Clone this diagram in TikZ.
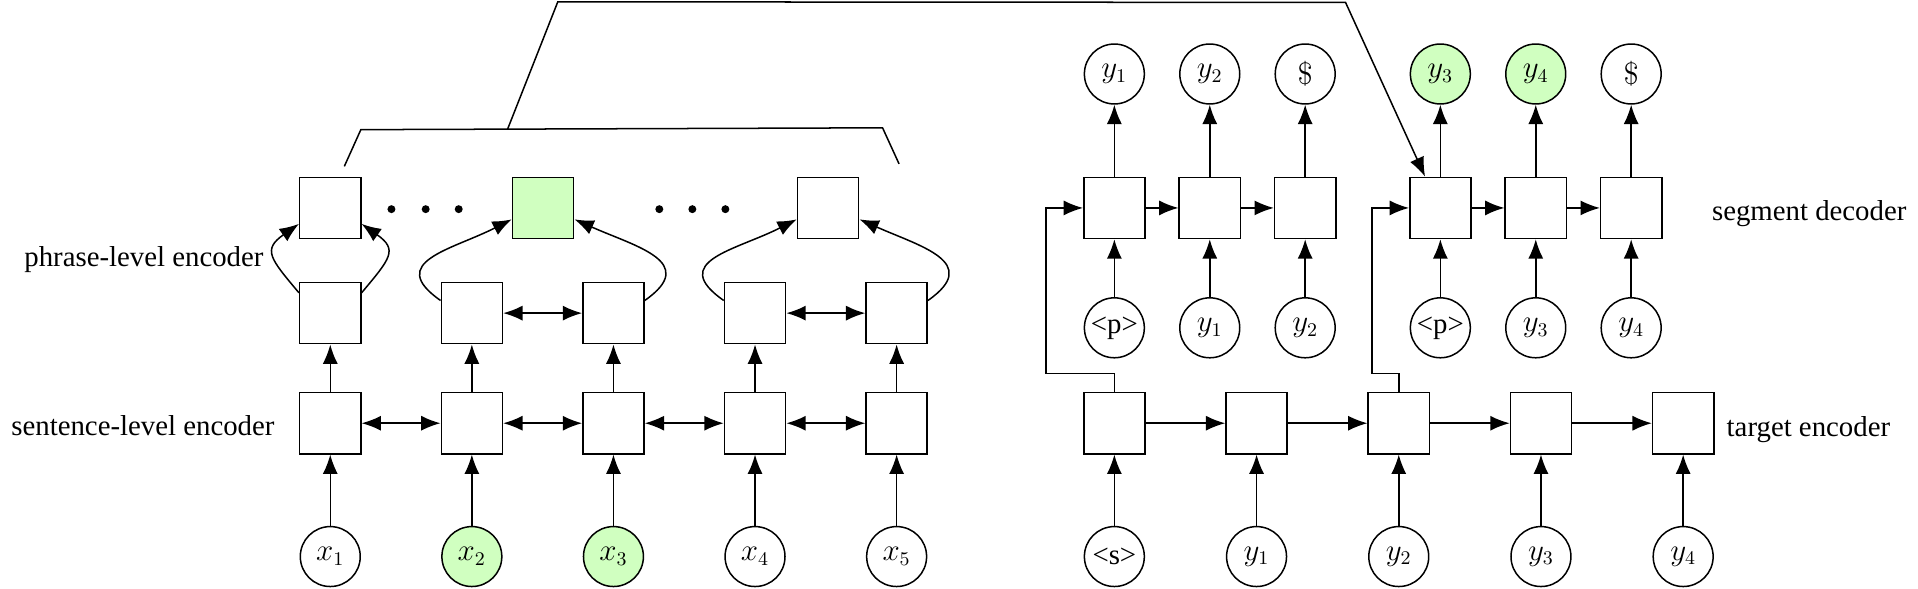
\documentclass[tikz,border=0pt]{standalone}
\usepackage[no-math]{fontspec}
\setmainfont{Liberation Serif}
\usetikzlibrary{arrows.meta}
\definecolor{hitgreen}{RGB}{208,255,192}
\begin{document}
\begin{tikzpicture}[
    font=\fontsize{13.4}{16}\selectfont,
    line width=0.7pt,
    >={Latex[length=9pt,width=7pt]},
    cell/.style={rectangle, draw, minimum size=1cm, inner sep=0pt},
    tok/.style={circle, draw, minimum size=0.98cm, inner sep=0pt},
    hit/.style={fill=hitgreen},
    tag/.style={inner sep=0pt}
]
    \useasboundingbox (0,0) rectangle (31.36,9.62);

    \node[tok] (x1) at (5.40,0.52) {$x_1$};
    \node[tok, hit] (x2) at (7.715,0.52) {$x_2$};
    \node[tok, hit] (x3) at (10.03,0.52) {$x_3$};
    \node[tok] (x4) at (12.345,0.52) {$x_4$};
    \node[tok] (x5) at (14.66,0.52) {$x_5$};
    \node[cell] (s1) at (5.40,2.70) {};
    \node[cell] (s2) at (7.715,2.70) {};
    \node[cell] (s3) at (10.03,2.70) {};
    \node[cell] (s4) at (12.345,2.70) {};
    \node[cell] (s5) at (14.66,2.70) {};
    \node[cell] (p1) at (5.40,4.50) {};
    \node[cell] (p2) at (7.715,4.50) {};
    \node[cell] (p3) at (10.03,4.50) {};
    \node[cell] (p4) at (12.345,4.50) {};
    \node[cell] (p5) at (14.66,4.50) {};
    \node[cell] (h1) at (5.40,6.22) {};
    \node[cell, hit] (h2) at (8.88,6.22) {};
    \node[cell] (h3) at (13.54,6.22) {};

    \node[tag, anchor=east] (lphr) at (4.32,5.38) {phrase-level encoder};
    \node[tag, anchor=east] (lsen) at (4.50,2.66) {sentence-level encoder};

    \fill (6.40,6.20) circle (0.065);
    \fill (6.96,6.20) circle (0.065);
    \fill (7.50,6.20) circle (0.065);
    \fill (10.78,6.20) circle (0.065);
    \fill (11.32,6.20) circle (0.065);
    \fill (11.86,6.20) circle (0.065);

    \path (x1) edge[->] (s1);
    \path (x2) edge[->] (s2);
    \path (x3) edge[->] (s3);
    \path (x4) edge[->] (s4);
    \path (x5) edge[->] (s5);
    \path (s1) edge[<->] (s2);
    \path (s2) edge[<->] (s3);
    \path (s3) edge[<->] (s4);
    \path (s4) edge[<->] (s5);
    \path (s1) edge[->] (p1);
    \path (s2) edge[->] (p2);
    \path (s3) edge[->] (p3);
    \path (s4) edge[->] (p4);
    \path (s5) edge[->] (p5);
    \path (p2) edge[<->] (p3);
    \path (p4) edge[<->] (p5);
    \path (p1.147) edge[->, out=130, in=215, looseness=1.67] (h1.207);
    \path (p1.33) edge[->, out=50, in=-35, looseness=1.67] (h1.-27);
    \path (p2.158) edge[->, out=145, in=207, looseness=1.6] (h2.200);
    \path (p3.22) edge[->, out=35, in=-24, looseness=1.6] (h2.340);
    \path (p4.158) edge[->, out=145, in=207, looseness=1.6] (h3.200);
    \path (p5.22) edge[->, out=35, in=-24, looseness=1.6] (h3.340);

    \node[tok] (ts) at (18.22,0.52) {<s>};
    \node[tok] (ty1) at (20.545,0.52) {$y_1$};
    \node[tok] (ty2) at (22.87,0.52) {$y_2$};
    \node[tok] (ty3) at (25.195,0.52) {$y_3$};
    \node[tok] (ty4) at (27.52,0.52) {$y_4$};
    \node[cell] (e1) at (18.22,2.70) {};
    \node[cell] (e2) at (20.545,2.70) {};
    \node[cell] (e3) at (22.87,2.70) {};
    \node[cell] (e4) at (25.195,2.70) {};
    \node[cell] (e5) at (27.52,2.70) {};
    \node[tok] (i11) at (18.22,4.26) {<p>};
    \node[tok] (i12) at (19.78,4.26) {$y_1$};
    \node[tok] (i13) at (21.34,4.26) {$y_2$};
    \node[tok] (i21) at (23.55,4.26) {<p>};
    \node[tok] (i22) at (25.11,4.26) {$y_3$};
    \node[tok] (i23) at (26.67,4.26) {$y_4$};
    \node[cell] (d11) at (18.22,6.22) {};
    \node[cell] (d12) at (19.78,6.22) {};
    \node[cell] (d13) at (21.34,6.22) {};
    \node[cell] (d21) at (23.55,6.22) {};
    \node[cell] (d22) at (25.11,6.22) {};
    \node[cell] (d23) at (26.67,6.22) {};
    \node[tok] (o11) at (18.22,8.41) {$y_1$};
    \node[tok] (o12) at (19.78,8.41) {$y_2$};
    \node[tok] (o13) at (21.34,8.41) {$\$$};
    \node[tok, hit] (o21) at (23.55,8.41) {$y_3$};
    \node[tok, hit] (o22) at (25.11,8.41) {$y_4$};
    \node[tok] (o23) at (26.67,8.41) {$\$$};

    \node[tag, anchor=west] (lseg) at (27.98,6.12) {segment decoder};
    \node[tag, anchor=west] (ltgt) at (28.22,2.60) {target encoder};

    \path (ts) edge[->] (e1);
    \path (ty1) edge[->] (e2);
    \path (ty2) edge[->] (e3);
    \path (ty3) edge[->] (e4);
    \path (ty4) edge[->] (e5);
    \path (e1) edge[->] (e2);
    \path (e2) edge[->] (e3);
    \path (e3) edge[->] (e4);
    \path (e4) edge[->] (e5);
    \path (i11) edge[->] (d11);
    \path (i12) edge[->] (d12);
    \path (i13) edge[->] (d13);
    \path (i21) edge[->] (d21);
    \path (i22) edge[->] (d22);
    \path (i23) edge[->] (d23);
    \path (d11) edge[->] (d12);
    \path (d12) edge[->] (d13);
    \path (d21) edge[->] (d22);
    \path (d22) edge[->] (d23);
    \path (d11) edge[->] (o11);
    \path (d12) edge[->] (o12);
    \path (d13) edge[->] (o13);
    \path (d21) edge[->] (o21);
    \path (d22) edge[->] (o22);
    \path (d23) edge[->] (o23);

    \coordinate (k1) at (17.10,3.51);
    \coordinate (k2) at (22.43,3.51);
    \draw[->] (e1.north) |- (k1) |- (d11.west);
    \draw[->] (e3.north) |- (k2) |- (d21.west);

    \coordinate (b1) at (5.63,6.90);
    \coordinate (b2) at (5.90,7.50);
    \coordinate (b3) at (14.43,7.53);
    \coordinate (b4) at (14.70,6.94);
    \coordinate (b5) at (8.30,7.51);
    \coordinate (b6) at (9.12,9.59);
    \coordinate (b7) at (22.00,9.58);
    \draw (b1) -- (b2) -- (b3) -- (b4);
    \draw[->] (b5) -- (b6) -- (b7) -- (d21.116);
\end{tikzpicture}
\end{document}
